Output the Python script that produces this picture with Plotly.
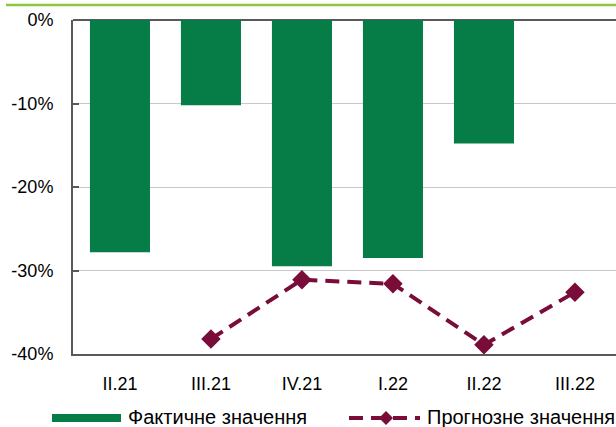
import plotly.graph_objects as go

categories = ["II.21", "III.21", "IV.21", "I.22", "II.22", "III.22"]
actual = [-27.8, -10.2, -29.5, -28.5, -14.8, None]
forecast = [None, -38.2, -31.1, -31.6, -38.9, -32.6]
y_ticks = [0, -10, -20, -30, -40]
y_tick_labels = ["0%", "-10%", "-20%", "-30%", "-40%"]
legend_names = ["Фактичне значення", "Прогнозне значення"]

GREEN = "#067D46"
MAROON = "#7A0C3A"
AXIS = "#595959"
FONT = "Liberation Sans, Arial, sans-serif"

W, H = 616, 427
L, R, T, B = 73, 0, 20, 73
PW, PH = W - L - R, H - T - B

def px(x):
    return (x - L) / PW

def py(y):
    return (H - B - y) / PH

fig = go.Figure()
fig.add_trace(go.Bar(x=categories, y=actual, marker=dict(color=GREEN, line=dict(width=0)),
                     name=legend_names[0], showlegend=False))
fig.add_trace(go.Scatter(x=categories, y=forecast, mode="lines+markers", name=legend_names[1],
                         line=dict(color=MAROON, width=4, dash="14px,8px"),
                         marker=dict(symbol="diamond", size=15, color=MAROON),
                         connectgaps=False, showlegend=False))

shapes = [
    # top accent line
    dict(type="line", xref="paper", yref="paper", x0=px(6), x1=px(616), y0=py(5), y1=py(5),
         line=dict(color="#8DC63F", width=2.5)),
    # legend: bar swatch
    dict(type="rect", xref="paper", yref="paper", x0=px(52), x1=px(121), y0=py(422), y1=py(414),
         fillcolor=GREEN, line=dict(width=0)),
    # legend: dashed line
    dict(type="line", xref="paper", yref="paper", x0=px(349), x1=px(420), y0=py(418), y1=py(418),
         line=dict(color=MAROON, width=4, dash="14px,8px")),
    # legend: diamond
    dict(type="path", xref="paper", yref="paper",
         path="M {},{} L {},{} L {},{} L {},{} Z".format(px(386), py(411), px(393), py(418),
                                                         px(386), py(425), px(379), py(418)),
         fillcolor=MAROON, line=dict(width=0)),
]

annotations = [
    dict(text=legend_names[0], xref="paper", yref="paper", x=px(126), y=py(417),
         xanchor="left", yanchor="middle", showarrow=False, font=dict(size=20, color="#000", family=FONT)),
    dict(text=legend_names[1], xref="paper", yref="paper", x=px(425), y=py(417),
         xanchor="left", yanchor="middle", showarrow=False, font=dict(size=20, color="#000", family=FONT)),
]

fig.update_layout(
    width=W, height=H,
    margin=dict(l=L, r=R, t=T, b=B, pad=0),
    paper_bgcolor="white", plot_bgcolor="white",
    bargap=0.34,
    showlegend=False,
    font=dict(family=FONT, size=18, color="#000"),
    shapes=shapes,
    annotations=annotations,
)
fig.update_xaxes(range=[-0.516, 5.451], showline=True, linecolor=AXIS, linewidth=2,
                 ticks="", showgrid=False, tickfont=dict(size=18), ticklabelstandoff=12)
fig.update_yaxes(range=[-40, 0], tickvals=y_ticks, ticktext=y_tick_labels,
                 showline=True, linecolor=AXIS, linewidth=2,
                 ticks="inside", ticklen=6, tickcolor=AXIS, tickwidth=1.5,
                 showgrid=True, gridcolor="#C8C8C8", gridwidth=1,
                 zeroline=True, zerolinecolor=AXIS, zerolinewidth=2,
                 tickfont=dict(size=18), ticklabelstandoff=14)

fig.write_html("out.html", config={"displayModeBar": False},
               post_script="document.body.style.margin='0';document.body.style.overflow='hidden';")
